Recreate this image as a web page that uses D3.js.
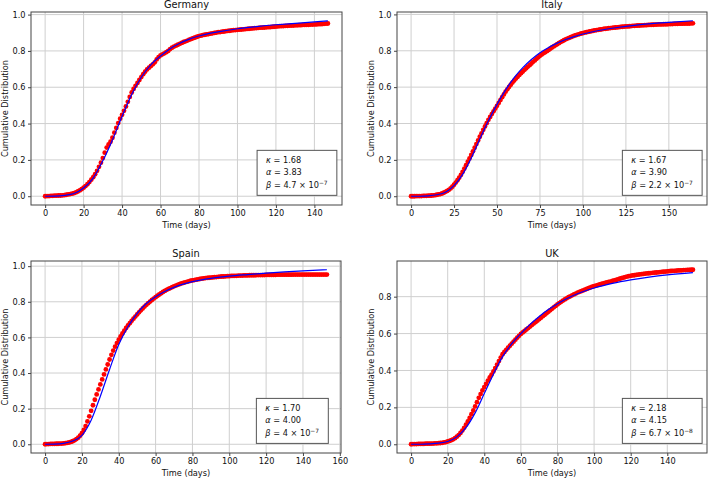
<!DOCTYPE html>
<html><head><meta charset="utf-8">
<script src="https://cdn.jsdelivr.net/npm/d3@7"></script>
<style>body{margin:0;background:#fff}svg text{font-family:"DejaVu Sans",sans-serif;fill:#111}</style>
</head><body><svg id="chart" width="708" height="480"></svg>
<script>
// ---------------- DATA ----------------
const countries = ["Germany", "Italy", "Spain", "UK"];

// observed cumulative distribution, one value per day starting at day 0
const germanyObs = [
0.000,0.001,0.001,0.002,0.002,0.003,0.003,0.004,0.004,0.005,
0.006,0.008,0.010,0.012,0.014,0.017,0.021,0.026,0.032,0.039,
0.047,0.056,0.066,0.078,0.091,0.105,0.121,0.140,0.162,0.185,
0.210,0.240,0.268,0.285,0.300,0.322,0.350,0.376,0.403,0.427,
0.448,0.470,0.494,0.520,0.547,0.571,0.591,0.608,0.624,0.640,
0.656,0.672,0.686,0.698,0.708,0.717,0.726,0.737,0.753,0.766,
0.775,0.781,0.787,0.793,0.800,0.810,0.818,0.824,0.829,0.834,
0.839,0.844,0.849,0.853,0.857,0.862,0.866,0.870,0.874,0.878,
0.882,0.884,0.887,0.889,0.891,0.893,0.895,0.897,0.899,0.901,
0.903,0.904,0.906,0.907,0.909,0.910,0.911,0.913,0.914,0.915,
0.916,0.917,0.918,0.919,0.920,0.921,0.922,0.923,0.924,0.925,
0.926,0.927,0.928,0.928,0.929,0.930,0.931,0.931,0.932,0.933,
0.934,0.935,0.936,0.936,0.937,0.938,0.938,0.939,0.940,0.940,
0.941,0.941,0.942,0.942,0.943,0.943,0.944,0.944,0.945,0.945,
0.946,0.946,0.947,0.947,0.948,0.949,0.950,0.951];
const italyObs = [
0.000,0.000,0.000,0.001,0.001,0.001,0.001,0.002,0.002,0.002,
0.003,0.003,0.004,0.005,0.006,0.008,0.010,0.012,0.015,0.019,
0.024,0.029,0.035,0.043,0.052,0.063,0.075,0.088,0.102,0.117,
0.134,0.152,0.171,0.190,0.208,0.227,0.247,0.267,0.287,0.307,
0.327,0.346,0.365,0.384,0.402,0.420,0.436,0.452,0.467,0.482,
0.497,0.513,0.529,0.545,0.560,0.575,0.588,0.601,0.613,0.625,
0.636,0.647,0.657,0.667,0.677,0.686,0.695,0.704,0.713,0.721,
0.730,0.739,0.747,0.756,0.764,0.772,0.779,0.786,0.792,0.798,
0.804,0.811,0.818,0.824,0.830,0.836,0.842,0.848,0.853,0.858,
0.863,0.867,0.871,0.875,0.879,0.883,0.886,0.889,0.892,0.895,
0.897,0.900,0.902,0.904,0.906,0.908,0.910,0.912,0.914,0.915,
0.917,0.918,0.920,0.921,0.922,0.924,0.925,0.926,0.927,0.928,
0.929,0.930,0.931,0.932,0.933,0.934,0.934,0.935,0.936,0.937,
0.937,0.938,0.939,0.939,0.940,0.940,0.941,0.941,0.942,0.942,
0.943,0.943,0.944,0.944,0.945,0.945,0.945,0.946,0.946,0.946,
0.947,0.947,0.947,0.948,0.948,0.948,0.949,0.949,0.949,0.950,
0.950,0.950,0.950,0.951,0.951];
const spainObs = [
0.000,0.001,0.001,0.002,0.002,0.002,0.003,0.003,0.004,0.004,
0.005,0.006,0.008,0.010,0.013,0.017,0.022,0.029,0.037,0.048,
0.062,0.080,0.102,0.128,0.157,0.188,0.219,0.250,0.280,0.308,
0.336,0.364,0.392,0.420,0.448,0.476,0.502,0.526,0.548,0.568,
0.587,0.605,0.622,0.638,0.653,0.667,0.680,0.693,0.705,0.717,
0.729,0.741,0.752,0.763,0.773,0.783,0.792,0.801,0.810,0.818,
0.826,0.834,0.841,0.848,0.855,0.861,0.867,0.872,0.877,0.882,
0.887,0.891,0.895,0.899,0.903,0.906,0.909,0.912,0.915,0.918,
0.920,0.922,0.924,0.926,0.928,0.930,0.931,0.933,0.934,0.935,
0.936,0.937,0.938,0.939,0.940,0.941,0.942,0.942,0.943,0.944,
0.944,0.945,0.945,0.946,0.946,0.947,0.947,0.947,0.948,0.948,
0.948,0.949,0.949,0.949,0.949,0.950,0.950,0.950,0.950,0.950,
0.951,0.951,0.951,0.951,0.951,0.951,0.952,0.952,0.952,0.952,
0.952,0.952,0.952,0.952,0.952,0.953,0.953,0.953,0.953,0.953,
0.953,0.953,0.953,0.953,0.953,0.953,0.953,0.953,0.953,0.953,
0.953,0.953,0.953,0.953];
const ukObs = [
0.000,0.001,0.001,0.001,0.002,0.002,0.002,0.002,0.003,0.003,
0.003,0.004,0.004,0.005,0.005,0.006,0.007,0.008,0.010,0.012,
0.015,0.018,0.022,0.027,0.033,0.041,0.050,0.061,0.074,0.089,
0.106,0.124,0.143,0.163,0.183,0.205,0.228,0.252,0.272,0.292,
0.310,0.327,0.345,0.362,0.378,0.395,0.413,0.432,0.451,0.470,
0.488,0.500,0.512,0.523,0.534,0.545,0.556,0.567,0.578,0.588,
0.598,0.606,0.614,0.622,0.630,0.638,0.646,0.654,0.662,0.670,
0.678,0.686,0.694,0.702,0.710,0.718,0.726,0.734,0.742,0.750,
0.758,0.765,0.772,0.779,0.785,0.791,0.797,0.802,0.807,0.812,
0.817,0.822,0.826,0.830,0.834,0.838,0.842,0.846,0.850,0.854,
0.857,0.860,0.863,0.866,0.869,0.872,0.875,0.877,0.880,0.882,
0.885,0.888,0.891,0.894,0.897,0.900,0.903,0.906,0.909,0.911,
0.913,0.915,0.916,0.918,0.919,0.921,0.922,0.923,0.925,0.926,
0.927,0.928,0.929,0.930,0.931,0.932,0.933,0.934,0.935,0.936,
0.937,0.938,0.939,0.940,0.940,0.941,0.942,0.942,0.943,0.944,
0.944,0.945,0.945,0.946,0.946];

// fitted model curve (days, values)
const germanyFitDays = [0,5,10,15,20,25,30,35,40,45,50,55,60,65,70,75,80,85,90,95,100,110,120,130,140,147];
const germanyFit     = [0,0.001,0.005,0.015,0.045,0.100,0.195,0.310,0.440,0.560,0.655,0.725,0.772,0.812,0.842,0.865,0.882,0.895,0.905,0.914,0.922,0.934,0.944,0.952,0.960,0.966];
const italyFitDays = [0,5,10,15,20,25,30,35,40,45,50,55,60,65,70,75,80,85,90,95,100,110,120,130,140,150,164];
const italyFit     = [0,0.000,0.002,0.008,0.022,0.058,0.120,0.210,0.315,0.415,0.505,0.585,0.652,0.707,0.752,0.789,0.818,0.842,0.862,0.878,0.892,0.913,0.928,0.940,0.949,0.956,0.965];
const spainFitDays = [0,5,10,15,20,25,30,35,40,45,50,55,60,65,70,75,80,85,90,95,100,110,120,130,140,153];
const spainFit     = [0,0.001,0.005,0.018,0.050,0.135,0.270,0.420,0.560,0.660,0.735,0.790,0.828,0.858,0.881,0.899,0.913,0.923,0.931,0.938,0.944,0.953,0.961,0.968,0.974,0.980];
const ukFitDays = [0,5,10,15,20,25,30,35,40,45,50,55,60,65,70,75,80,85,90,95,100,110,120,130,140,154];
const ukFit     = [0,0.000,0.002,0.006,0.015,0.040,0.090,0.170,0.275,0.380,0.475,0.545,0.600,0.650,0.693,0.730,0.762,0.789,0.812,0.831,0.847,0.872,0.891,0.906,0.918,0.930];

// tick labels
const germanyXTicks = [0,20,40,60,80,100,120,140];
const italyXTicks   = [0,25,50,75,100,125,150];
const spainXTicks   = [0,20,40,60,80,100,120,140,160];
const ukXTicks      = [0,20,40,60,80,100,120,140];
const fullYTicks = [0,0.2,0.4,0.6,0.8,1.0];
const ukYTicks   = [0,0.2,0.4,0.6,0.8];

// fitted parameters
const kappaValues = ["1.68","1.67","1.70","2.18"];
const alphaValues = ["3.83","3.90","4.00","4.15"];
const betaMantissa = ["4.7","2.2","4","6.7"];
const betaExponent = ["\u22127","\u22127","\u22127","\u22128"];

const xLabel = "Time (days)";
const yLabel = "Cumulative Distribution";

// ---------------- DRAW ----------------
const svg = d3.select("#chart");
const obsList = [germanyObs, italyObs, spainObs, ukObs];
const fitDaysList = [germanyFitDays, italyFitDays, spainFitDays, ukFitDays];
const fitList = [germanyFit, italyFit, spainFit, ukFit];
const xTickList = [germanyXTicks, italyXTicks, spainXTicks, ukXTicks];
const yTickList = [fullYTicks, fullYTicks, fullYTicks, ukYTicks];

const frames = [
  {left: 31, top: 12, width: 311, height: 193},
  {left: 397, top: 12, width: 310, height: 193},
  {left: 31, top: 261, width: 310, height: 192},
  {left: 397, top: 261, width: 310, height: 192}
];
const FS = 8.2;
const spineColor = "#444";

countries.forEach((name, k) => {
  const f = frames[k];
  const obs = obsList[k];
  const fitDays = fitDaysList[k], fit = fitList[k];
  const xMax = Math.max(obs.length - 1, d3.max(fitDays));
  const yMax = Math.max(d3.max(obs), d3.max(fit));
  const x = d3.scaleLinear().domain([-0.05 * xMax, 1.05 * xMax]).range([f.left, f.left + f.width]);
  const y = d3.scaleLinear().domain([-0.05 * yMax, 1.05 * yMax]).range([f.top + f.height, f.top]);
  const g = svg.append("g");

  // grid
  g.append("g").selectAll("line.vx").data(xTickList[k]).join("line")
    .attr("x1", d => x(d)).attr("x2", d => x(d)).attr("y1", f.top).attr("y2", f.top + f.height)
    .attr("stroke", "#cfcfcf").attr("stroke-width", 1);
  g.append("g").selectAll("line.hy").data(yTickList[k]).join("line")
    .attr("y1", d => y(d)).attr("y2", d => y(d)).attr("x1", f.left).attr("x2", f.left + f.width)
    .attr("stroke", "#cfcfcf").attr("stroke-width", 1);

  // observed points
  g.append("g").selectAll("circle").data(obs).join("circle")
    .attr("cx", (d, i) => x(i)).attr("cy", d => y(d)).attr("r", 2.4).attr("fill", "#ff0000");

  // fit line
  const line = d3.line().x(d => x(d[0])).y(d => y(d[1])).curve(d3.curveMonotoneX);
  g.append("path").datum(fitDays.map((d, i) => [d, fit[i]]))
    .attr("d", line).attr("fill", "none").attr("stroke", "#0000ff").attr("stroke-width", 1.2);

  // axes
  const xAxis = d3.axisBottom(x).tickValues(xTickList[k]).tickFormat(d3.format("d")).tickSize(3).tickPadding(2);
  const yAxis = d3.axisLeft(y).tickValues(yTickList[k]).tickFormat(d3.format(".1f")).tickSize(3).tickPadding(2.5);
  const gx = g.append("g").attr("transform", `translate(0,${f.top + f.height})`).call(xAxis);
  const gy = g.append("g").attr("transform", `translate(${f.left},0)`).call(yAxis);
  [gx, gy].forEach(a => {
    a.select(".domain").remove();
    a.selectAll("line").attr("stroke", spineColor);
    a.selectAll("text").attr("font-size", FS).attr("font-family", "DejaVu Sans").attr("fill", "#222");
  });

  // spines
  g.append("rect").attr("x", f.left).attr("y", f.top).attr("width", f.width).attr("height", f.height)
    .attr("fill", "none").attr("stroke", spineColor).attr("stroke-width", 1);

  // title and labels
  g.append("text").attr("x", f.left + f.width / 2).attr("y", f.top - 4).attr("text-anchor", "middle")
    .attr("font-size", 9.8).text(name);
  g.append("text").attr("x", f.left + f.width / 2).attr("y", f.top + f.height + 22.5).attr("text-anchor", "middle")
    .attr("font-size", FS).text(xLabel);
  g.append("text").attr("transform", `translate(${f.left - 23.5},${f.top + f.height / 2}) rotate(-90)`)
    .attr("text-anchor", "middle").attr("font-size", FS).text(yLabel);

  // parameter box
  const bx = f.left + 0.727 * f.width;
  const bBottom = f.top + f.height - 0.05 * f.height;
  const bh = 45;
  const bt = bBottom - bh;
  const box = g.append("g");
  const rect = box.append("rect");
  const tg = box.append("g").attr("font-size", FS);
  const pad = 9;
  const l1 = tg.append("text").attr("x", bx + pad).attr("y", bt + 13);
  l1.append("tspan").attr("font-style", "italic").text("\u03ba");
  l1.append("tspan").text(" = " + kappaValues[k]);
  const l2 = tg.append("text").attr("x", bx + pad).attr("y", bt + 25);
  l2.append("tspan").attr("font-style", "italic").text("\u03b1");
  l2.append("tspan").text(" = " + alphaValues[k]);
  const l3 = tg.append("text").attr("x", bx + pad).attr("y", bt + 38);
  l3.append("tspan").attr("font-style", "italic").text("\u03b2");
  l3.append("tspan").text(" = " + betaMantissa[k] + " \u00d7 10");
  l3.append("tspan").attr("font-size", FS * 0.72).attr("dy", -3.6).text(betaExponent[k]);
  const bb = tg.node().getBBox();
  rect.attr("x", bx).attr("y", bt).attr("width", bb.x + bb.width - bx + pad).attr("height", bh)
    .attr("fill", "#fff").attr("stroke", "#555").attr("stroke-width", 1);
});
</script></body></html>
